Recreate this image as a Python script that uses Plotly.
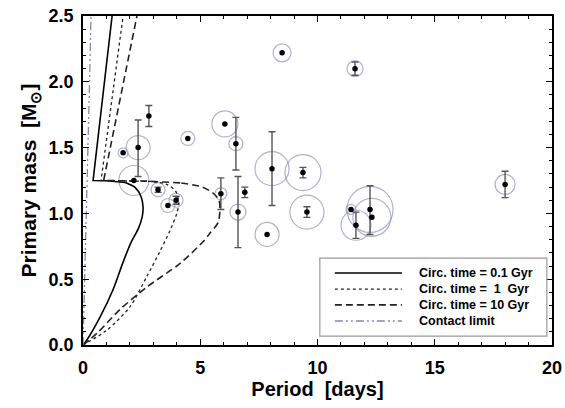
import plotly.graph_objects as go

# ---------------- data ----------------
period = [1.71, 2.35, 2.81, 2.17, 3.20, 3.97, 3.62, 4.47, 6.05, 6.52, 5.88, 6.61,
          6.90, 8.06, 7.85, 9.38, 9.55, 8.49, 11.60, 18.0, 11.43, 11.64, 12.24, 12.32]
mass = [1.46, 1.50, 1.74, 1.25, 1.18, 1.10, 1.06, 1.57, 1.68, 1.53, 1.15, 1.01,
        1.16, 1.34, 0.84, 1.31, 1.01, 2.22, 2.10, 1.22, 1.03, 0.91, 1.03, 0.97]
err_up = [0, 0.21, 0.08, 0, 0.02, 0.03, 0, 0, 0, 0.20, 0.12, 0.27,
          0.04, 0.28, 0, 0.04, 0.04, 0, 0.05, 0.10, 0, 0.10, 0.18, 0]
err_down = [0, 0.22, 0.08, 0, 0.02, 0.03, 0, 0, 0, 0.20, 0.12, 0.27,
            0.04, 0.28, 0, 0.04, 0.04, 0, 0.05, 0.10, 0, 0.10, 0.19, 0]
ring = [5, 12, 0, 15, 7, 7, 7, 7, 13, 7, 6, 8,
        0, 17, 12, 18, 17, 9, 8, 10, 5, 15, 23, 19]

# circularisation curves: lower (convective) branch and upper (plateau + radiative) branch
circ01_low_p = [0, 0.17, 0.72, 1.28, 1.71, 2.05, 2.35, 2.52, 2.56, 2.47, 2.22, 1.80]
circ01_low_m = [0, 0.04, 0.21, 0.42, 0.63, 0.78, 0.88, 0.97, 1.05, 1.13, 1.198, 1.235]
circ01_up_p = [1.80, 1.00, 0.43, 1.24]
circ01_up_m = [1.235, 1.248, 1.25, 2.5]

circ1_low_p = [0, 1.00, 2.00, 2.72, 3.25, 3.71, 4.00, 4.08, 3.95, 3.55, 2.90]
circ1_low_m = [0, 0.11, 0.29, 0.52, 0.70, 0.87, 1.00, 1.08, 1.17, 1.222, 1.243]
circ1_up_p = [2.90, 0.77, 1.71]
circ1_up_m = [1.243, 1.25, 2.5]

circ10_low_p = [0, 0.60, 1.58, 2.72, 4.14, 5.20, 5.41, 5.76, 5.84, 5.80, 5.54, 5.10, 4.14]
circ10_low_m = [0, 0.09, 0.27, 0.44, 0.62, 0.80, 0.85, 0.93, 1.03, 1.10, 1.155, 1.20, 1.232]
circ10_up_p = [4.14, 2.70, 0.88, 2.30]
circ10_up_m = [1.232, 1.245, 1.25, 2.5]

contact_p = [0, 0.08, 0.15, 0.21, 0.28, 0.34]
contact_m = [0, 0.5, 1.0, 1.5, 2.0, 2.5]

legend_labels = ["Circ. time = 0.1 Gyr", "Circ. time =  1  Gyr",
                 "Circ. time = 10 Gyr", "Contact limit"]

# ---------------- figure ----------------
FONT = "Liberation Sans, Arial, sans-serif"
ring_col = "#8f8fc0"
fig = go.Figure()

rp = [p for p, r in zip(period, ring) if r > 0]
rm = [m for m, r in zip(mass, ring) if r > 0]
rs = [2 * r for r in ring if r > 0]
fig.add_trace(go.Scatter(x=rp, y=rm, mode="markers", hoverinfo="skip",
                         marker=dict(symbol="circle-open", size=rs, color=ring_col,
                                     line=dict(width=1.2, color=ring_col))))

idx = [i for i in range(len(period)) if err_up[i] > 0]
fig.add_trace(go.Scatter(x=[period[i] for i in idx], y=[mass[i] for i in idx],
                         mode="markers", marker=dict(size=1, color="rgba(0,0,0,0)"),
                         error_y=dict(type="data", symmetric=False,
                                      array=[err_up[i] for i in idx],
                                      arrayminus=[err_down[i] for i in idx],
                                      color="#555555", thickness=1.4, width=3.5)))

st01 = dict(color="black", width=1.6, dash="solid")
st1 = dict(color="#222222", width=1.3, dash="dot")
st10 = dict(color="#222222", width=1.6, dash="7px,4px")
stc = dict(color="#8585b5", width=1.3, dash="8px,3px,2px,3px,2px,3px")

for lp, lm, up, um, st in [(circ01_low_p, circ01_low_m, circ01_up_p, circ01_up_m, st01),
                           (circ1_low_p, circ1_low_m, circ1_up_p, circ1_up_m, st1),
                           (circ10_low_p, circ10_low_m, circ10_up_p, circ10_up_m, st10)]:
    fig.add_trace(go.Scatter(x=lp, y=lm, mode="lines", hoverinfo="skip",
                             line=dict(shape="spline", smoothing=0.8, **st)))
    fig.add_trace(go.Scatter(x=up, y=um, mode="lines", hoverinfo="skip",
                             line=dict(shape="linear", **st)))
fig.add_trace(go.Scatter(x=contact_p, y=contact_m, mode="lines", hoverinfo="skip", line=stc))

fig.add_trace(go.Scatter(x=period, y=mass, mode="markers",
                         marker=dict(size=5.5, color="black")))

# manual legend
fig.add_shape(type="rect", xref="paper", yref="paper", x0=0.505, x1=0.989, y0=0.027, y1=0.264,
              line=dict(color="#999999", width=1.2), fillcolor="white", layer="above")
rows_y = [0.219, 0.170, 0.122, 0.073]
for st, yy, lab in zip([st01, st1, st10, stc], rows_y, legend_labels):
    fig.add_shape(type="line", xref="paper", yref="paper", x0=0.537, x1=0.680, y0=yy, y1=yy,
                  line=st, layer="above")
    fig.add_annotation(xref="paper", yref="paper", x=0.712, y=yy, text=lab, showarrow=False,
                       xanchor="left", yanchor="middle",
                       font=dict(family=FONT, size=12.5, color="black", weight="bold"))

axis_common = dict(showgrid=False, zeroline=False, showline=True, linecolor="black", linewidth=1.5,
                   ticks="inside", ticklen=6, tickwidth=1.2, tickcolor="black")
tickfont = dict(family=FONT, size=18, color="black", weight="bold")
titlefont = dict(family=FONT, size=20, color="black", weight="bold")

fig.update_layout(
    xaxis=dict(range=[0, 20], dtick=5, tick0=0, tickfont=tickfont,
               minor=dict(dtick=1, ticks="inside", ticklen=3, tickwidth=1, tickcolor="black"),
               ticklabelstandoff=6,
               title=dict(text="Period  [days]", standoff=2, font=titlefont),
               **axis_common),
    yaxis=dict(range=[0, 2.5], dtick=0.5, tick0=0, tickformat=".1f", tickfont=tickfont,
               minor=dict(dtick=0.1, ticks="inside", ticklen=3, tickwidth=1, tickcolor="black"),
               ticklabelstandoff=4,
               title=dict(text="Primary mass  [M<sub>⊙</sub>]", standoff=6,
                          font=dict(family=FONT, size=21, color="black", weight="bold")),
               **axis_common),
    xaxis2=dict(range=[0, 20], dtick=5, tick0=0, overlaying="x", side="top", showticklabels=False,
                minor=dict(dtick=1, ticks="inside", ticklen=3, tickwidth=1, tickcolor="black"),
                **axis_common),
    yaxis2=dict(range=[0, 2.5], dtick=0.5, tick0=0, overlaying="y", side="right", showticklabels=False,
                minor=dict(dtick=0.1, ticks="inside", ticklen=3, tickwidth=1, tickcolor="black"),
                **axis_common),
    width=565, height=408, margin=dict(l=83, r=13, t=16, b=63, autoexpand=False),
    paper_bgcolor="white", plot_bgcolor="white", showlegend=False)

# invisible trace to activate the mirrored axes
fig.add_trace(go.Scatter(x=[0], y=[0], xaxis="x2", yaxis="y2", mode="markers",
                         marker=dict(size=1, color="rgba(0,0,0,0)"), hoverinfo="skip"))

fig.write_html("out.html")
